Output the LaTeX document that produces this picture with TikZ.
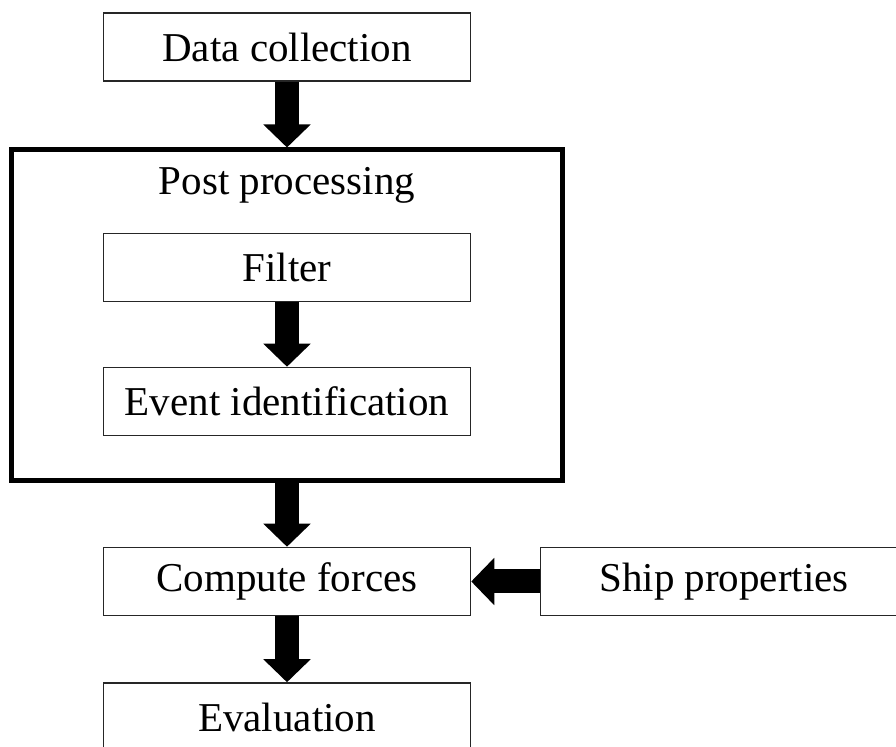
\documentclass[tikz,border=0pt]{standalone}
\usepackage{fontspec}
\setmainfont{Liberation Serif}
\usetikzlibrary{arrows.meta,positioning}

\begin{document}
\begin{tikzpicture}[semithick,
    box/.style={draw=black!85,line width=0.75pt,minimum width=183.5pt,minimum height=34pt,inner sep=0pt},
    frame/.style={draw,line width=2.5pt,minimum width=275.75pt,minimum height=165.5pt,inner sep=0pt},
    flow/.style={-{Triangle[width=23pt,length=11.5pt]},line width=12pt},
    every node/.style={font=\fontsize{20.5}{24}\selectfont}]
  \useasboundingbox (0,0) rectangle (448pt,-373.5pt);

  \node[box]   (data)   at (143.5pt,-23.5pt)             {Data collection};
  \node[frame] (post)   [below of=data,node distance=134.25pt] {};
  \node        (ptitle) [below of=data,node distance=69pt]     {Post processing};
  \node[box]   (filter) [below of=ptitle,node distance=41.25pt] {Filter};
  \node[box]   (event)  [below of=filter,node distance=67pt]    {Event identification};
  \node[box]   (forces) [below of=event,node distance=90pt]     {Compute forces};
  \node[box]   (ship)   [right of=forces,node distance=218.5pt] {Ship properties};
  \node[box]   (eval)   [below of=forces,node distance=67.75pt] {Evaluation};

  \draw[flow] (data) -- (post);
  \draw[flow] (filter) -- (event);
  \draw[flow] (post) -- (forces);
  \draw[flow] (ship) -- (forces);
  \draw[flow] (forces) -- (eval);
\end{tikzpicture}
\end{document}
